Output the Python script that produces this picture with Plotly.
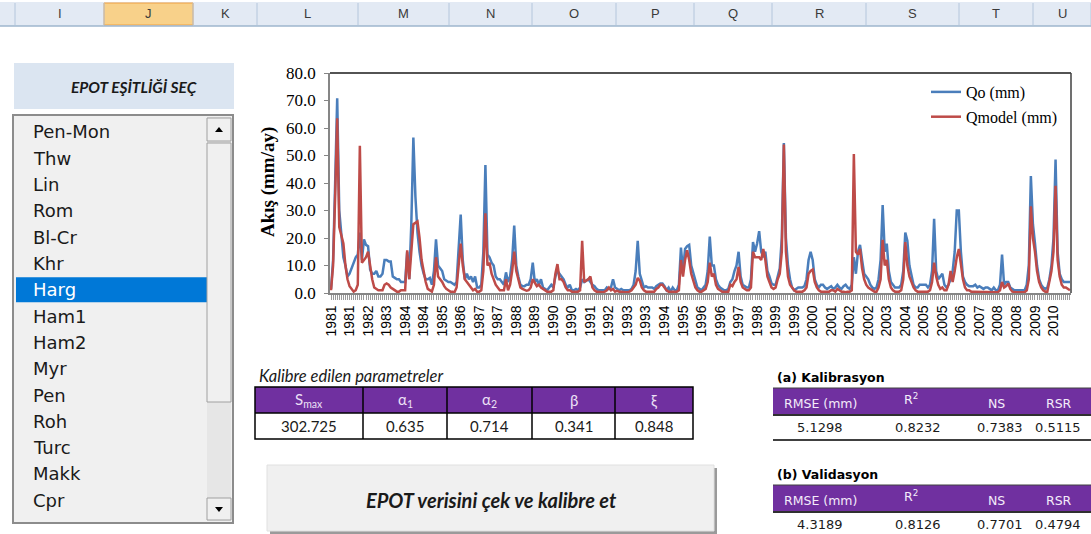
import plotly.graph_objects as go

# monthly runoff, Jan 1981 .. Dec 2010 (mm/ay)
qo = [
    1.5, 12, 40, 70.8, 30, 22, 13, 10, 6, 7, 9, 11,          # 1981
    13, 14, 22, 12, 19.5, 17.5, 17, 8.5, 7, 7, 8, 6,         # 1982
    6, 7, 12, 12, 11.5, 11.5, 6, 5.5, 5, 5, 4, 4,            # 1983
    4, 15, 5, 25, 56.5, 35, 22, 15, 10, 7, 5, 5,             # 1984
    5.5, 3, 8, 19.5, 10, 9, 8, 5, 4.5, 4, 4, 3.5,            # 1985
    3, 4, 15, 28.5, 12, 5, 7, 5, 6, 4, 6, 2,                 # 1986
    2, 3, 15, 46.5, 14, 13, 11, 10, 6, 5, 5, 4,              # 1987
    3, 7.5, 4, 6, 12, 24.5, 10, 6, 3, 2.5, 2.5, 3,           # 1988
    3, 5, 11, 4, 5, 3, 5, 2, 1.5, 1, 2, 3,                   # 1989
    2, 6, 8, 7, 6, 5, 3, 2, 3, 1, 1, 1.5,                    # 1990
    1, 2, 5, 4, 4.5, 5, 4, 3, 2.5, 1.5, 1, 1,                # 1991
    1, 1, 2, 1.5, 2, 5, 2, 1.5, 1, 1.5, 1, 1,                # 1992
    1, 1, 1.5, 3, 8, 19, 7, 4, 2, 2.5, 2, 2,                 # 1993
    2, 1.5, 2.5, 3, 3.5, 3.5, 2.5, 1, 2, 0.5, 2, 1,          # 1994
    1, 3, 16.5, 8, 16, 17, 17.5, 10, 7, 4, 2, 1.5,           # 1995
    1, 2, 3, 8, 20.5, 10, 10, 5, 3, 2, 1.5, 1,               # 1996
    1, 1.5, 4, 5, 8, 10, 15, 6, 3, 2.5, 2, 2,                # 1997
    5, 18.5, 15, 18, 22.5, 15, 13, 15, 8, 6, 3.5, 3,         # 1998
    3, 6, 9, 20, 54.5, 20, 10, 5, 2, 1, 1.5, 2,              # 1999
    2, 2, 2.5, 5, 12, 15, 12, 5, 3, 2, 3, 3,                 # 2000
    2, 1.5, 2, 2.5, 1.5, 2, 3, 2, 1.5, 2.5, 3, 2,            # 2001
    1.5, 3, 13, 7, 15, 17.5, 12, 7, 6, 5, 3, 2,              # 2002
    1.5, 2, 5, 12, 32, 15, 18, 8, 4, 3, 2, 2,                # 2003
    2, 3, 8, 22, 19, 10, 6, 3, 2, 2, 3, 3,                   # 2004
    3, 3, 2, 3, 8, 27, 8, 5, 6, 7, 3, 2,                     # 2005
    3, 5, 8, 15, 30, 30, 15, 6, 4, 3, 2.5, 2.5,              # 2006
    2.5, 3, 2, 2.5, 2, 1.5, 2, 2, 1.5, 1, 2, 1,              # 2007
    1, 3, 14, 3, 4, 4, 2, 1.5, 1, 1, 1, 1,                   # 2008
    1, 1, 3, 10, 42.5, 25, 18, 10, 5, 3, 2, 1.5,             # 2009
    2, 5, 10, 20, 48.5, 15, 7, 5, 4, 4, 4, 4,                # 2010
]
qmodel = [
    1, 10, 35, 63.5, 24, 21, 18, 10, 5, 2.5, 1.5, 0.5,       # 1981
    1, 3, 53.5, 11, 12, 13, 15, 10, 5, 2, 1.5, 1,            # 1982
    1, 1, 3, 3.5, 3, 2, 1.5, 1, 0.5, 0.5, 1, 1,              # 1983
    1, 15.5, 5, 15, 25, 25.5, 26, 20, 12, 8, 4, 1.5,         # 1984
    1, 0.5, 3, 13, 6, 5, 4, 2.5, 1.5, 1, 0.5, 0.5,           # 1985
    0.3, 2, 10, 18, 10, 5, 4, 3, 2, 1, 1.5, 0.5,             # 1986
    0.5, 1, 8, 29, 10, 11, 7, 5, 3, 2, 1, 1,                 # 1987
    1, 5, 1, 3, 8, 15, 8, 5, 2, 1.5, 1, 0.8,                 # 1988
    1, 2, 5, 3.5, 2.5, 3, 2, 1.5, 1, 0.5, 0.5, 0.5,          # 1989
    1, 7, 10.5, 5, 5, 4, 2, 1, 1, 0.5, 0.5, 0.5,             # 1990
    0.5, 1, 19, 4, 4.5, 5, 6, 2, 1, 0.5, 0.5, 0.3,           # 1991
    0.3, 0.5, 1, 2, 1, 1.5, 0.5, 0.8, 0.5, 0.5, 0.3, 0.3,    # 1992
    0.3, 0.5, 1, 2, 3, 5.5, 4.5, 2, 1, 0.5, 0.5, 0.5,        # 1993
    0.5, 0.5, 1.5, 2, 3, 3, 2, 1, 0.5, 0.5, 0.3, 0.3,        # 1994
    0.5, 1, 12, 6, 12, 15.5, 12, 7, 4, 2, 1, 0.5,            # 1995
    0.5, 1, 1.5, 4, 11, 6, 7, 3, 1.5, 1, 0.5, 0.5,           # 1996
    0.5, 0.5, 3, 2.5, 4, 5, 9.5, 4, 2, 1.5, 1, 1,            # 1997
    2, 15, 13, 13, 13, 12, 16, 12, 6, 4, 2, 1.5,             # 1998
    2, 5, 7, 15, 54, 15, 6, 3, 2, 1, 0.5, 0.5,               # 1999
    0.5, 0.5, 1, 2, 7, 8, 8.5, 4, 2, 1, 0.5, 0.5,            # 2000
    0.5, 0.5, 0.5, 1, 1, 0.5, 1.5, 1, 0.5, 0.5, 0.3, 0.5,    # 2001
    0.5, 1, 50.5, 15, 14, 16, 9, 5, 3, 2, 1.5, 1,            # 2002
    0.5, 0.5, 2, 5, 19.3, 10, 12, 5, 2, 1, 0.5, 0.5,         # 2003
    0.5, 1, 5, 18.5, 10, 6, 4, 2, 1, 0.5, 0.5, 0.5,          # 2004
    0.5, 0.5, 0.5, 1, 4, 11, 6, 3, 1.5, 2, 1, 1,             # 2005
    3, 8, 4, 8, 13, 16, 11, 5, 2, 1, 1, 0.5,                 # 2006
    0.5, 0.5, 0.5, 0.3, 0.3, 0.3, 0.3, 0.3, 0.3, 0.3, 0.3, 0.3,  # 2007
    0.3, 1, 4, 2, 2.5, 3.5, 1.5, 0.5, 0.3, 0.3, 0.3, 0.3,    # 2008
    0.3, 0.3, 1, 5, 31.5, 20, 15, 8, 4, 2, 1, 0.5,           # 2009
    0.5, 4, 8, 15, 39, 12, 6, 3, 2, 2, 1.5, 1,               # 2010
]
# category labels shown every 9th month, as excel prints them
tick_labels = ["1981", "1981", "1982", "1983", "1984", "1984", "1985", "1986",
               "1987", "1987", "1988", "1989", "1990", "1990", "1991", "1992",
               "1993", "1993", "1994", "1995", "1996", "1996", "1997", "1998",
               "1999", "1999", "2000", "2001", "2002", "2002", "2003", "2004",
               "2005", "2005", "2006", "2007", "2008", "2008", "2009", "2010"]
label_step = 9

epot_methods = ["Pen-Mon", "Thw", "Lin", "Rom", "Bl-Cr", "Khr", "Harg", "Ham1",
                "Ham2", "Myr", "Pen", "Roh", "Turc", "Makk", "Cpr"]
selected_method = "Harg"

param_names = ["S<sub>max</sub>", "α<sub>1</sub>", "α<sub>2</sub>", "β", "ξ"]
param_values = [302.725, 0.635, 0.714, 0.341, 0.848]

metric_names = ["RMSE (mm)", "R<sup>2</sup>", "NS", "RSR"]
calib_values = [5.1298, 0.8232, 0.7383, 0.5115]
valid_values = [4.3189, 0.8126, 0.7701, 0.4794]

columns = ["I", "J", "K", "L", "M", "N", "O", "P", "Q", "R", "S", "T", "U"]

W, H = 1091, 534
PURPLE = "#7030a0"


def px(x):
    return x / W


def py(y):
    return 1 - y / H


shapes = []
annotations = []


def rect(x0, y0, x1, y1, fill, line=None, width=1):
    shapes.append(dict(type="rect", xref="paper", yref="paper",
                       x0=px(x0), x1=px(x1), y0=py(y1), y1=py(y0),
                       fillcolor=fill,
                       line=dict(color=line if line else fill, width=width if line else 0)))


def hline(x0, x1, y, color, width=1):
    shapes.append(dict(type="line", xref="paper", yref="paper",
                       x0=px(x0), x1=px(x1), y0=py(y), y1=py(y),
                       line=dict(color=color, width=width)))


def vline(x, y0, y1, color, width=1):
    shapes.append(dict(type="line", xref="paper", yref="paper",
                       x0=px(x), x1=px(x), y0=py(y0), y1=py(y1),
                       line=dict(color=color, width=width)))


def text(x, y, s, size, family="Lato", color="#1a1a1a", xanchor="center", angle=0):
    annotations.append(dict(x=px(x), y=py(y), xref="paper", yref="paper", text=s,
                            showarrow=False, xanchor=xanchor, yanchor="middle",
                            textangle=angle, font=dict(family=family, size=size, color=color)))


months = list(range(len(qo)))
label_pos = [k * label_step for k in range(len(tick_labels))]

fig = go.Figure()
fig.add_trace(go.Scatter(x=months, y=qo, name="Qo (mm)", mode="lines", legendgroup="a",
                         line=dict(color="#4a7ebb", width=2.5)))
fig.add_trace(go.Scatter(x=months, y=qmodel, name="Qmodel (mm)", mode="lines", legendgroup="b",
                         line=dict(color="#be4b48", width=2.5)))

# ---- excel column header strip
rect(0, 2, W, 26, "#e3eaf4")
bounds = [15, 104, 193, 257, 358, 449, 532, 616, 694, 772, 866, 959, 1033, 1091]
for k, col in enumerate(columns):
    if col == "J":
        rect(bounds[k], 3, bounds[k + 1], 25, "#f8d18a", "#f0a040", 1)
    text((bounds[k] + bounds[k + 1]) / 2, 14, col, 13, "Liberation Sans", "#3a3a3a")
for b in bounds:
    vline(b, 3, 25, "#b4c6dc")
hline(0, W, 26, "#9eb6ce", 1.5)

# ---- left panel: title box and list box
rect(14, 63, 234, 109, "#dbe5f1")
text(134, 87, "<b><i>EPOT EŞİTLİĞİ SEÇ</i></b>", 15.5)

rect(13, 115, 233, 523, "#f0f0f0", "#8c8c8c", 2)
for k, name in enumerate(epot_methods):
    yc = 132 + k * 26.3
    col = "#1a1a1a"
    if name == selected_method:
        rect(16, yc - 12.5, 207, yc + 12.5, "#0078d7")
        col = "white"
    text(31, yc, name, 18, "DejaVu Sans", col, "left")

# scrollbar
rect(207, 117, 231, 521, "#e6e6e6")
rect(207, 118, 231, 141, "#f0f0f0", "#a0a0a0", 1)
rect(207, 143, 231, 402, "#f0f0f0", "#a0a0a0", 1)
rect(207, 498, 231, 520, "#f0f0f0", "#a0a0a0", 1)
shapes.append(dict(type="path", xref="paper", yref="paper", fillcolor="black", line=dict(width=0),
                   path=f"M {px(215)},{py(132)} L {px(223)},{py(132)} L {px(219)},{py(127)} Z"))
shapes.append(dict(type="path", xref="paper", yref="paper", fillcolor="black", line=dict(width=0),
                   path=f"M {px(215)},{py(507)} L {px(223)},{py(507)} L {px(219)},{py(512)} Z"))

# ---- plot frame (top and right edges)
shapes.append(dict(type="line", xref="x domain", yref="y domain", x0=0, x1=1, y0=1, y1=1,
                   line=dict(color="#1a1a1a", width=1.5)))
shapes.append(dict(type="line", xref="x domain", yref="y domain", x0=1, x1=1, y0=0, y1=1,
                   line=dict(color="#404040", width=1.5)))
text(268, 182, "<b>Akış (mm/ay)</b>", 19, "Liberation Serif", "black", angle=-90)

# ---- calibrated parameter table
text(257, 376, "<i>Kalibre edilen parametreler</i>", 16.5, xanchor="left")
pcols = [255, 363, 447, 532, 615, 693]
rect(255, 387, 693, 413, PURPLE)
rect(255, 413, 693, 439, "white")
for k in range(len(param_names)):
    xc = (pcols[k] + pcols[k + 1]) / 2
    text(xc, 400, param_names[k], 15, color="#ece0f6")
    text(xc, 426, f"{param_values[k]:.3f}", 15)
for xb in pcols[1:-1]:
    vline(xb, 387, 439, "black", 1.5)
hline(255, 693, 413, "black", 1.5)
rect(255, 387, 693, 439, "rgba(0,0,0,0)", "black", 1.5)

# ---- metric tables
hx = [820, 911, 996, 1059]
vx = [820, 918, 1000, 1058]
for title, top, vals in [("(a) Kalibrasyon", 388, calib_values), ("(b) Validasyon", 485, valid_values)]:
    text(775, top - 11, f"<b>{title}</b>", 12.5, "DejaVu Sans", "black", "left")
    rect(773, top, W, top + 26, PURPLE)
    hline(773, W, top, "#404040", 1)
    hline(773, W, top + 27, "#303030", 2)
    for k, name in enumerate(metric_names):
        yy = top + 11 if k == 1 else top + 15
        text(hx[k], yy, name, 12.5, "DejaVu Sans", "#f4ecfa")
        text(vx[k], top + 39, f"{vals[k]:.4f}", 13, "DejaVu Sans", "#1a1a1a")
    hline(773, W, top + 52, "#404040", 2)

# ---- button
rect(270, 468, 717, 534, "#9a9a9a")
rect(267, 465, 714, 531, "#f0f0f0", "#e0e0e0", 1)
text(491, 500, "<b><i>EPOT verisini çek ve kalibre et</i></b>", 20)

fig.update_layout(
    width=W, height=H, margin=dict(l=0, r=0, t=0, b=0, pad=0, autoexpand=False),
    paper_bgcolor="white", plot_bgcolor="white",
    shapes=shapes, annotations=annotations,
    showlegend=True,
    legend=dict(x=px(926), y=py(75), xanchor="left", yanchor="top",
                bgcolor="rgba(0,0,0,0)", itemwidth=30, tracegroupgap=1,
                font=dict(family="Liberation Serif", size=16, color="black")),
    xaxis=dict(domain=[px(330), px(1071)], range=[-0.5, len(qo) - 0.5], automargin=False,
               tickmode="array", tickvals=label_pos, ticktext=tick_labels,
               tickangle=-90, ticks="outside", ticklen=5, tickcolor="#9a9a9a",
               minor=dict(tickmode="linear", tick0=0, dtick=1, ticks="outside",
                          ticklen=5, tickcolor="#9a9a9a", showgrid=False),
               tickfont=dict(family="Liberation Sans", size=14, color="black"),
               showline=True, linecolor="#868686", linewidth=1.5,
               showgrid=False, zeroline=False, fixedrange=True),
    yaxis=dict(domain=[py(293), py(73)], range=[0, 80], dtick=10, tickformat=".1f", automargin=False,
               ticks="outside", ticklen=4, tickcolor="#868686", ticklabelstandoff=5,
               tickfont=dict(family="Liberation Serif", size=17, color="black"),
               showline=True, linecolor="#868686", linewidth=1.5,
               showgrid=False, zeroline=False, fixedrange=True),
)

# the page's default 8px body margin would shift the whole sheet
fig.write_html("out.html", config={"displayModeBar": False},
               post_script="document.body.style.margin = '0px';")
